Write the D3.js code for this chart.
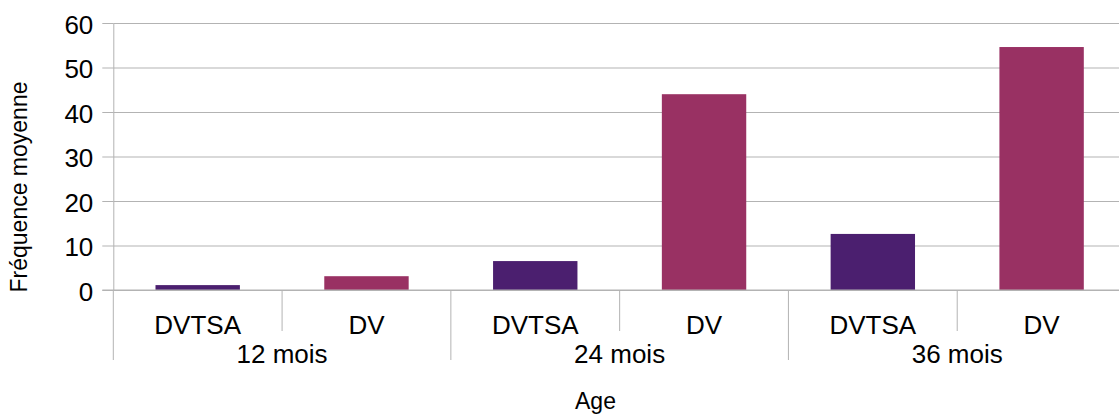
<!DOCTYPE html>
<html>
<head>
<meta charset="utf-8">
<script src="https://cdn.jsdelivr.net/npm/d3@7"></script>
<style>
    body { margin: 0; background: #fff; }
    svg { display: block; font-family: "Liberation Sans", Arial, sans-serif; }
    .axis path, .axis line { stroke: #b3b3b3; }
    .grid line { stroke: #b3b3b3; }
    .grid path { display: none; }
</style>
</head>
<body>
<div class="chart"></div>
<script>
// data
const groups = ["12 mois", "24 mois", "36 mois"];
const series = ["DVTSA", "DV"];
const dvtsa = [1.1, 6.5, 12.6];
const dv = [3.1, 44.0, 54.6];
const yTicks = [0, 10, 20, 30, 40, 50, 60];
const colors = ["#4b1f6f", "#993163"];

const data = groups.map((g, i) => ({ group: g, values: [dvtsa[i], dv[i]] }));

const margin = ({top: 23, right: -7, bottom: 124, left: 113.3})
const width = 1119 - margin.left - margin.right,
    height = 414 - margin.top - margin.bottom;

const svg = d3.select(".chart")
    .append("svg")
    .attr("width", 1119)
    .attr("height", 414)
    .append("g")
    .attr("transform", "translate(" + margin.left + "," + margin.top + ")");

// scales
const x0 = d3.scaleBand()
    .domain(groups)
    .range([0, width]);

const x1 = d3.scaleBand()
    .domain(series)
    .range([0, x0.bandwidth()])
    .paddingInner(0.5)
    .paddingOuter(0.25);

const yScale = d3.scaleLinear()
    .domain([0, 60])
    .range([height, 0]);

// gridlines
svg.append("g")
    .attr("class", "grid")
    .call(d3.axisLeft(yScale).tickValues(yTicks).tickSize(-width).tickFormat(""));

// y axis
svg.append("g")
    .attr("class", "axis y-axis")
    .call(d3.axisLeft(yScale).tickValues(yTicks).tickSizeInner(11).tickSizeOuter(0).tickPadding(9))
    .call(g => g.selectAll("text")
        .attr("font-size", 26)
        .attr("fill", "#000")
        .attr("font-family", "Liberation Sans, Arial, sans-serif")
        .attr("dy", "0.4em"));

// bars
const grp = svg.selectAll(".bar-group")
    .data(data)
    .enter().append("g")
    .attr("class", "bar-group")
    .attr("transform", d => "translate(" + x0(d.group) + ",0)");

grp.selectAll("rect")
    .data(d => d.values.map((v, i) => ({ key: series[i], value: v, i: i })))
    .enter().append("rect")
    .attr("x", d => x1(d.key))
    .attr("width", x1.bandwidth())
    .attr("y", d => yScale(d.value))
    .attr("height", d => height - yScale(d.value))
    .attr("fill", d => colors[d.i]);

// x axis baseline
svg.append("line")
    .attr("x1", -11).attr("x2", width)
    .attr("y1", height).attr("y2", height)
    .attr("stroke", "#b3b3b3");

// category dividers and labels
const bottom = svg.append("g").attr("class", "axis x-axis");

groups.forEach(g => {
    const gx = x0(g);
    bottom.append("line")
        .attr("x1", gx).attr("x2", gx)
        .attr("y1", height).attr("y2", height + 70)
        .attr("stroke", "#b3b3b3");
    bottom.append("line")
        .attr("x1", gx + x0.bandwidth() / 2).attr("x2", gx + x0.bandwidth() / 2)
        .attr("y1", height).attr("y2", height + 41)
        .attr("stroke", "#b3b3b3");
    series.forEach(s => {
        bottom.append("text")
            .attr("x", gx + x1(s) + x1.bandwidth() / 2)
            .attr("y", height + 44)
            .attr("text-anchor", "middle")
            .attr("font-size", 26)
            .text(s);
    });
    bottom.append("text")
        .attr("x", gx + x0.bandwidth() / 2)
        .attr("y", height + 73)
        .attr("text-anchor", "middle")
        .attr("font-size", 26)
        .text(g);
});

// axis titles
svg.append("text")
    .attr("x", 595.5 - margin.left)
    .attr("y", 409 - margin.top)
    .attr("text-anchor", "middle")
    .attr("font-size", 23)
    .text("Age");

svg.append("text")
    .attr("transform", "translate(" + (27 - margin.left) + "," + (187 - margin.top) + ") rotate(-90)")
    .attr("text-anchor", "middle")
    .attr("font-size", 23)
    .text("Fréquence moyenne");
</script>
</body>
</html>
